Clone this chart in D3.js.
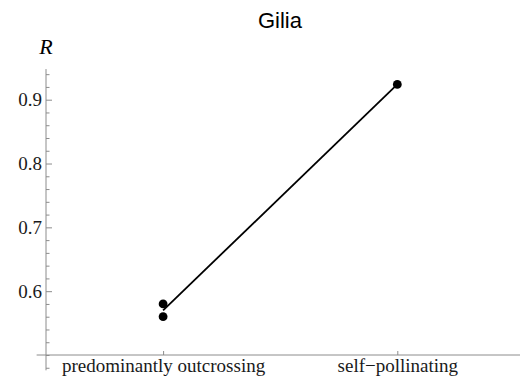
<!DOCTYPE html>
<html>
<head>
<meta charset="utf-8">
<script src="https://cdn.jsdelivr.net/npm/d3@7"></script>
<style>
  body { margin: 0; background: #fff; }
  svg { display: block; }
</style>
</head>
<body>
<div id="chart"></div>
<script>
// categories and values
const categories = ["predominantly outcrossing", "self\u2212pollinating"];
const categoryPos = [1, 2];
const outcrossingR = [0.58, 0.56];
const selfingR = [0.924];
const meanR = [0.57, 0.924];
const yMajorTicks = [0.6, 0.7, 0.8, 0.9];
const yMinorTicks = [0.48, 0.5, 0.52, 0.54, 0.56, 0.58, 0.62, 0.64, 0.66, 0.68,
                     0.72, 0.74, 0.76, 0.78, 0.82, 0.84, 0.86, 0.88, 0.92, 0.94];

const width = 520, height = 385;
const axisColor = "#8c8c8c";
const serif = "'Liberation Serif', 'Times New Roman', serif";

const x = d3.scaleLinear().domain([0.5, 2]).range([46, 397.3]);
const y = d3.scaleLinear().domain([0.5, 0.9]).range([355, 99.7]);

const svg = d3.select("#chart")
    .append("svg")
    .attr("width", width)
    .attr("height", height);

// x axis
const xAxis = svg.append("g")
    .attr("transform", `translate(0,${y(0.5)})`)
    .call(d3.axisBottom(x)
        .tickValues(categoryPos)
        .tickFormat((d, i) => categories[i])
        .tickSizeInner(-4)
        .tickSizeOuter(0)
        .tickPadding(3.5));
xAxis.select(".domain").remove();
xAxis.append("line")
    .attr("x1", x(0.46)).attr("x2", width)
    .attr("stroke", axisColor);

// y axis minor ticks
const yMinor = svg.append("g")
    .attr("transform", `translate(${x(0.5)},0)`)
    .call(d3.axisLeft(y).tickValues(yMinorTicks).tickSizeInner(-3.5).tickSizeOuter(0).tickFormat(""));
yMinor.select(".domain").remove();

// y axis major ticks
const yAxis = svg.append("g")
    .attr("transform", `translate(${x(0.5)},0)`)
    .call(d3.axisLeft(y)
        .tickValues(yMajorTicks)
        .tickSizeInner(-6)
        .tickSizeOuter(0)
        .tickPadding(4)
        .tickFormat(d3.format(".1f")));
yAxis.select(".domain").remove();
yAxis.append("line")
    .attr("y1", y(0.476)).attr("y2", y(0.948))
    .attr("stroke", axisColor);

svg.selectAll(".tick line").attr("stroke", axisColor);
svg.selectAll(".tick text")
    .attr("fill", "#1a1a1a")
    .style("font-family", serif)
    .style("font-size", "19px");

// connecting line between the group means
svg.append("path")
    .datum(categoryPos.map((c, i) => [c, meanR[i]]))
    .attr("fill", "none")
    .attr("stroke", "#000")
    .attr("stroke-width", 1.8)
    .attr("d", d3.line().x(d => x(d[0])).y(d => y(d[1])));

// points
const points = outcrossingR.map(r => [categoryPos[0], r])
    .concat(selfingR.map(r => [categoryPos[1], r]));
svg.selectAll("circle")
    .data(points)
    .enter().append("circle")
    .attr("cx", d => x(d[0]))
    .attr("cy", d => y(d[1]))
    .attr("r", 4.4)
    .attr("fill", "#000");

// axis label
svg.append("text")
    .attr("x", x(0.5))
    .attr("y", 54)
    .attr("text-anchor", "middle")
    .style("font-family", serif)
    .style("font-style", "italic")
    .style("font-size", "22px")
    .text("R");

// title
svg.append("text")
    .attr("x", 280)
    .attr("y", 28)
    .attr("text-anchor", "middle")
    .style("font-family", "'Liberation Sans', Arial, sans-serif")
    .style("font-size", "22px")
    .text("Gilia");
</script>
</body>
</html>
